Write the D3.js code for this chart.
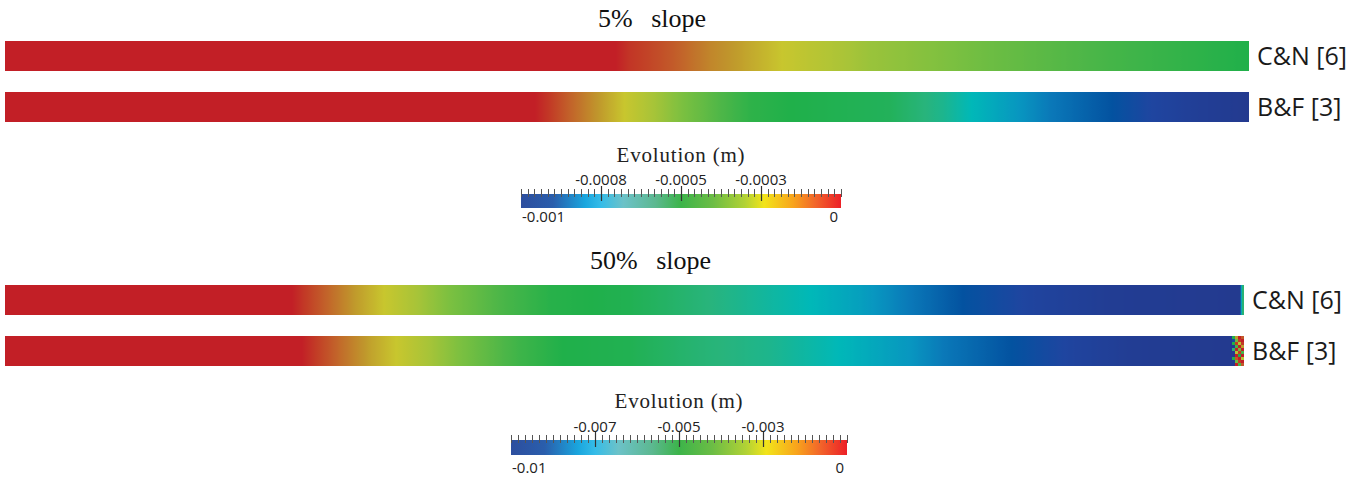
<!DOCTYPE html>
<html><head><meta charset="utf-8">
<script src="https://cdn.jsdelivr.net/npm/d3@7"></script>
<style>html,body{margin:0;padding:0;background:#fff;}svg{display:block;}</style>
</head><body>
<svg id="chart" width="1371" height="477"></svg>
<script>
// ---------- data ----------
const panelTitles = ["5% slope", "50% slope"];
const barLabels = ["C&N [6]", "B&F [3]"];
const rangeMin = [-0.001, -0.01];

// 5% slope, C&N [6] : position along bar (0..1) and evolution (m)
const pos5CN = [0, 0.491, 0.502, 0.535, 0.567, 0.625, 0.696, 0.793, 0.89, 1];
const val5CN = [0, 0, -0.00004, -0.0001, -0.00017, -0.00026, -0.00034, -0.0004, -0.00045, -0.0005];
// 5% slope, B&F [3]
const pos5BF = [0, 0.426, 0.455, 0.478, 0.498, 0.544, 0.599, 0.632, 0.712, 0.754, 0.777, 0.826, 0.851, 0.89, 0.922, 0.961, 1];
const val5BF = [0, 0, -0.00012, -0.0002, -0.00026, -0.00038, -0.00048, -0.0005, -0.00052, -0.00058, -0.00063, -0.00072, -0.00077, -0.00085, -0.00092, -0.00097, -0.001];
// 50% slope, C&N [6]
const pos50CN = [0, 0.2316, 0.2421, 0.2599, 0.2825, 0.3059, 0.3584, 0.3995, 0.4407, 0.5044, 0.569, 0.6505, 0.6901, 0.7312, 0.7732, 0.8289, 0.8935, 0.9968, 0.9984, 1];
const val50CN = [0, 0, -0.0005, -0.0012, -0.002, -0.0026, -0.0038, -0.0044, -0.0049, -0.0051, -0.0056, -0.0063, -0.0068, -0.0075, -0.0085, -0.0093, -0.0098, -0.01, -0.0055, -0.0055];
// 50% slope, B&F [3]
const pos50BF = [0, 0.2397, 0.2502, 0.2704, 0.2946, 0.3156, 0.3672, 0.4157, 0.4504, 0.5044, 0.5609, 0.6182, 0.6731, 0.7312, 0.7635, 0.8128, 0.8612, 0.9096, 0.9903, 1];
const val50BF = [0, 0, -0.0005, -0.0013, -0.0021, -0.0026, -0.0038, -0.0046, -0.005, -0.0051, -0.0055, -0.0058, -0.0063, -0.007, -0.0076, -0.0085, -0.0093, -0.0098, -0.01, -0.01];
// 50% slope, B&F [3] : noisy cells at the downstream end (rows top->bottom, 4 columns)
const edgeNoise50BF = [
  [-0.005, -0.002, 0, -0.001],
  [-0.009, -0.004, -0.0005, 0],
  [-0.005, -0.0005, -0.003, -0.0005],
  [-0.01, -0.0045, 0, -0.002],
  [-0.0055, 0, -0.004, 0],
  [-0.01, -0.003, -0.0005, -0.0045],
  [-0.01, 0, -0.005, 0],
  [-0.005, -0.001, 0, -0.003],
  [-0.01, -0.004, -0.0005, 0],
  [-0.01, 0, -0.0045, -0.001]
];

// colour bar ticks
const cbMajor = [[-0.00075, -0.0005, -0.00025], [-0.0075, -0.005, -0.0025]];
const cbMajorLabels = [["-0.0008", "-0.0005", "-0.0003"], ["-0.007", "-0.005", "-0.003"]];
const cbEndLabels = [["-0.001", "0"], ["-0.01", "0"]];
const cbTitle = "Evolution (m)";

// colour maps (fraction 0 = minimum, 1 = zero)
const cmapT = [0, 0.08, 0.15, 0.25, 0.3, 0.37, 0.44, 0.5, 0.56, 0.62, 0.68, 0.74, 0.8, 0.88, 0.95, 1];
const barColors = ["#233a8f", "#1f45a0", "#0352a0", "#0a78b8", "#0896c0", "#00b8b8", "#28b47c", "#20b04a",
                   "#4cb648", "#7cc040", "#a8c438", "#c8c62e", "#c09a2c", "#c2642a", "#c23a26", "#c21f26"];
const legendT = [0, 0.1, 0.2, 0.25, 0.32, 0.42, 0.5, 0.6, 0.7, 0.76, 0.85, 0.92, 1];
const legendColors = ["#2d4e9e", "#2a5eac", "#1aa6de", "#35bce8", "#6cc2c8", "#5cb890", "#3cb44a",
                      "#6cbd45", "#b2d235", "#f2e41a", "#f8a41c", "#f2652a", "#ec2027"];

// ---------- drawing ----------
const svg = d3.select("#chart");
const defs = svg.append("defs");

const panels = [
  { min: rangeMin[0], title: panelTitles[0], titleX: 598, titleY: 27,
    x0: 5, x1: 1249, bars: [{pos: pos5CN, val: val5CN, y: 41}, {pos: pos5BF, val: val5BF, y: 92}],
    cb: {x0: 521, x1: 841, y: 194, h: 14, titleY: 162, labY: 185, endY: 222} },
  { min: rangeMin[1], title: panelTitles[1], titleX: 590, titleY: 269,
    x0: 5, x1: 1244, bars: [{pos: pos50CN, val: val50CN, y: 285}, {pos: pos50BF, val: val50BF, y: 336, noise: edgeNoise50BF}],
    cb: {x0: 511, x1: 847, y: 440, h: 15, titleY: 408, labY: 432, endY: 473} }
];
const barH = 30;
const sans = "'Open Sans','Noto Sans',sans-serif";
const serif = "'Liberation Serif','Times New Roman',serif";

panels.forEach((P, pi) => {
  const tScale = d3.scaleLinear().domain([P.min, 0]).range([0, 1]).clamp(true);
  const barColor = d3.scaleLinear().domain(cmapT).range(barColors).interpolate(d3.interpolateRgb);
  const x = d3.scaleLinear().domain([0, 1]).range([P.x0, P.x1]);

  svg.append("text").attr("x", P.titleX).attr("y", P.titleY)
    .attr("font-family", serif).attr("font-size", 26)
    .attr("fill", "#111").attr("word-spacing", 12).text(P.title);

  P.bars.forEach((B, bi) => {
    const id = `g${pi}_${bi}`;
    const grad = defs.append("linearGradient").attr("id", id)
      .attr("gradientUnits", "userSpaceOnUse").attr("x1", P.x0).attr("x2", P.x1).attr("y1", 0).attr("y2", 0);
    const valAt = d3.scaleLinear().domain(B.pos).range(B.val);
    const samples = d3.range(0, 1.00001, 0.002).concat(B.pos).sort(d3.ascending);
    samples.forEach(p => {
      grad.append("stop").attr("offset", p)
        .attr("stop-color", barColor(tScale(valAt(p))));
    });
    svg.append("rect").attr("x", x(0)).attr("y", B.y).attr("width", x(1) - x(0)).attr("height", barH)
      .attr("fill", `url(#${id})`);
    if (B.noise) {
      const nc = B.noise[0].length, nr = B.noise.length;
      const cw = 3, ch = barH / nr;
      B.noise.forEach((row, r) => row.forEach((v, c) => {
        svg.append("rect").attr("x", x(1) - (nc - c) * cw).attr("y", B.y + r * ch)
          .attr("width", cw).attr("height", ch).attr("fill", barColor(tScale(v)));
      }));
    }
    svg.append("text").attr("x", x(1) + 8).attr("y", B.y + barH / 2 + 9)
      .attr("font-family", sans).attr("font-size", 25)
      .attr("fill", "#1a1a1a").text(barLabels[bi]);
  });

  // colour bar
  const C = P.cb;
  const cx = d3.scaleLinear().domain([P.min, 0]).range([C.x0, C.x1]);
  const lg = defs.append("linearGradient").attr("id", `cb${pi}`);
  legendT.forEach((t, i) => lg.append("stop").attr("offset", t).attr("stop-color", legendColors[i]));
  svg.append("rect").attr("x", C.x0).attr("y", C.y).attr("width", C.x1 - C.x0).attr("height", C.h)
    .attr("fill", `url(#cb${pi})`);
  const minor = d3.range(49).map(i => P.min + i * (-P.min) / 48);
  svg.append("g").selectAll("line").data(minor).join("line")
    .attr("x1", d => Math.round(cx(d)) + 0.5).attr("x2", d => Math.round(cx(d)) + 0.5)
    .attr("y1", C.y - 5).attr("y2", C.y + 3).attr("stroke", "#555").attr("stroke-width", 1);
  svg.append("g").selectAll("line").data(cbMajor[pi]).join("line")
    .attr("x1", d => Math.round(cx(d)) + 0.5).attr("x2", d => Math.round(cx(d)) + 0.5)
    .attr("y1", C.y - 8).attr("y2", C.y + 7).attr("stroke", "#333").attr("stroke-width", 1.2);
  svg.append("g").selectAll("text").data(cbMajor[pi]).join("text")
    .attr("x", d => cx(d)).attr("y", C.labY).attr("text-anchor", "middle")
    .attr("font-family", sans).attr("font-size", 15).attr("fill", "#222")
    .text((d, i) => cbMajorLabels[pi][i]);
  svg.append("text").attr("x", C.x0 + 1).attr("y", C.endY)
    .attr("font-family", sans).attr("font-size", 15).attr("fill", "#222")
    .text(cbEndLabels[pi][0]);
  svg.append("text").attr("x", C.x1 - 3).attr("y", C.endY).attr("text-anchor", "end")
    .attr("font-family", sans).attr("font-size", 15).attr("fill", "#222")
    .text(cbEndLabels[pi][1]);
  svg.append("text").attr("x", (C.x0 + C.x1) / 2).attr("y", C.titleY).attr("text-anchor", "middle")
    .attr("font-family", serif).attr("font-size", 21)
    .attr("letter-spacing", 0.8).attr("fill", "#222").text(cbTitle);
});
</script>
</body></html>
